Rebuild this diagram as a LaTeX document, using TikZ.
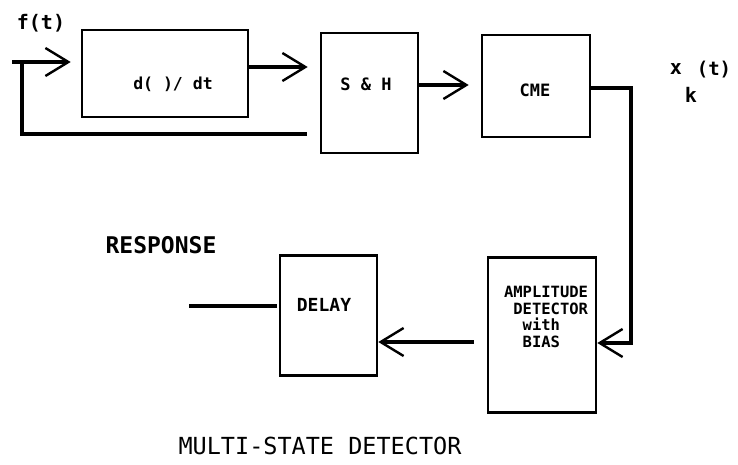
\documentclass[tikz,border=0pt]{standalone}
\usepackage{fontspec}
\setmainfont{DejaVu Sans Mono}
\usetikzlibrary{arrows.meta}
\begin{document}
\begin{tikzpicture}[x=1pt,y=-1pt,
  blk/.style={draw,line width=2.6pt,inner sep=0pt},
  wire/.style={line width=3.2pt,line cap=butt},
  chev/.style={-{Straight Barb[length=23pt,width=28pt,line width=2.4pt]}},
  lbl/.style={font=\bfseries,inner sep=0pt},
  btxt/.style={font=\bfseries,inner sep=0pt,align=center}]
\useasboundingbox (0,0) rectangle (738,465);
% boxes
\node[blk,minimum width=166pt,minimum height=87pt] (dd) at (165,73.5) {};
\node[blk,minimum width=97pt,minimum height=120pt] (sh) at (369.5,93) {};
\node[blk,minimum width=108pt,minimum height=102pt] (cme) at (536,86) {};
\node[blk,minimum width=108pt,minimum height=155pt] (amp) at (542,335) {};
\node[blk,minimum width=97pt,minimum height=120pt] (dly) at (328.5,315.5) {};
% box texts
\node[btxt,font=\bfseries\fontsize{16.5}{18}\selectfont] (tdd) at (173,84) {d(~)/ dt};
\node[btxt,font=\bfseries\fontsize{17}{18}\selectfont] (tsh) at (366,84) {S \& H};
\node[btxt,font=\bfseries\fontsize{17}{18}\selectfont] (tcme) at (535,90) {CME};
\node[btxt,font=\bfseries\fontsize{18}{18}\selectfont] (tdly) at (324,305) {DELAY};
\node[btxt,font=\bfseries\fontsize{15.5}{17}\selectfont,align=left] (tamp) at (546,317)
  {AMPLITUDE\\[-0.5pt]\ DETECTOR\\[-0.5pt]\ \ with\\[-0.5pt]\ \ BIAS};
% free labels
\node[lbl,font=\bfseries\fontsize{20}{22}\selectfont] (ft) at (41,23) {f(t)};
\node[lbl,font=\bfseries\fontsize{20}{22}\selectfont] (xx) at (676,69) {x};
\node[lbl,font=\bfseries\fontsize{20}{22}\selectfont] (xk) at (691,95) {k};
\node[lbl,font=\bfseries\fontsize{19}{22}\selectfont] (xt) at (714,70) {(t)};
\node[lbl,font=\bfseries\fontsize{23}{24}\selectfont] (resp) at (161,245) {RESPONSE};
\node[lbl,font=\fontsize{23.5}{24}\selectfont] (title) at (320,446) {MULTI-STATE DETECTOR};
% coordinates
\coordinate (in) at (12,62);
\coordinate (fb) at (22,62);
\coordinate (fbend) at (307,134);
\coordinate (rsp) at (189,306);
\coordinate (cnr) at (631,88);
% connectors
\draw[wire,chev] (in) -- ([xshift=-10pt]dd.west |- in);
\draw[wire] (fb) |- (fbend);
\draw[wire,chev] (dd.east |- 0,67) -- ([xshift=-12pt]sh.west |- 0,67);
\draw[wire,chev] (sh.east |- 0,85) -- ([xshift=-12pt]cme.west |- 0,85);
\draw[wire,chev] (cme.east |- cnr) -- (cnr) |- (amp.east |- 0,343);
\draw[wire,chev] ([xshift=-13pt]amp.west |- 0,342) -- (dly.east |- 0,342);
\draw[wire] (rsp) -- ([xshift=-2pt]dly.west |- rsp);
\end{tikzpicture}
\end{document}
